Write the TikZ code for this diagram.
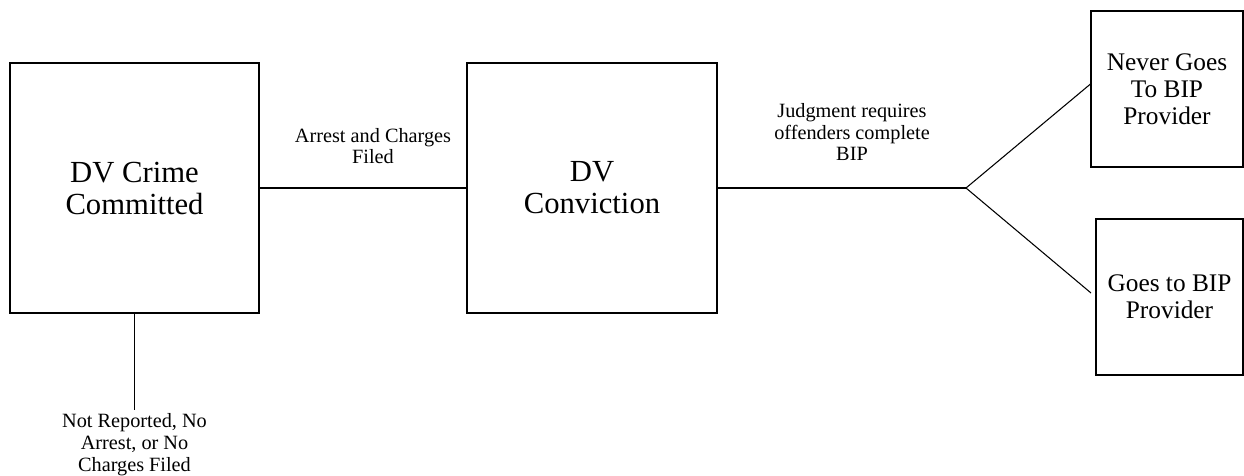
\documentclass[tikz,border=0pt]{standalone}
\usepackage{fontspec}
\setmainfont{Liberation Serif}
\begin{document}
\begin{tikzpicture}[x=0.75pt,y=-0.75pt,
  box/.style={draw,line width=0.8pt,inner sep=0pt,align=center},
  bigtext/.style={font=\fontsize{23}{24}\selectfont},
  midtext/.style={font=\fontsize{19}{20.3}\selectfont},
  smalltext/.style={font=\fontsize{15.2}{16.4}\selectfont,align=center,inner sep=0pt},
  conn/.style={line width=0.8pt}]
\useasboundingbox (0,0) rectangle (1244,475);
\node[box,bigtext,minimum width=249*0.75pt,minimum height=250*0.75pt] (n1) at (134.5,188) {DV Crime\\Committed};
\node[box,bigtext,minimum width=250*0.75pt,minimum height=250*0.75pt] (n2) at (592,188) {DV\\Conviction};
\node[box,midtext,minimum width=152*0.75pt,minimum height=156*0.75pt] (n3) at (1167,89) {Never Goes\\To BIP\\Provider};
\node[box,midtext,minimum width=147*0.75pt,minimum height=156*0.75pt] (n4) at (1169.5,297) {Goes to BIP\\Provider};
\coordinate (j) at (966,188);
\coordinate (e4) at (1091,293);
\coordinate (e1) at (134.5,410);
\draw[conn] (n1.east) -- (n2.west);
\draw[conn] (n2.east) -- (j);
\draw[conn] (j) -- ([yshift=3.75pt]n3.west);
\draw[conn] (j) -- (e4);
\draw[conn] (n1.south) -- (e1);
\node[smalltext] (l1) at (373,146) {Arrest and Charges\\Filed};
\node[smalltext] (l2) at (852,132) {Judgment requires\\offenders complete\\BIP};
\node[smalltext] (l3) at (134.5,444.5) {Not Reported, No\\Arrest, or No\\Charges Filed};
\end{tikzpicture}
\end{document}
